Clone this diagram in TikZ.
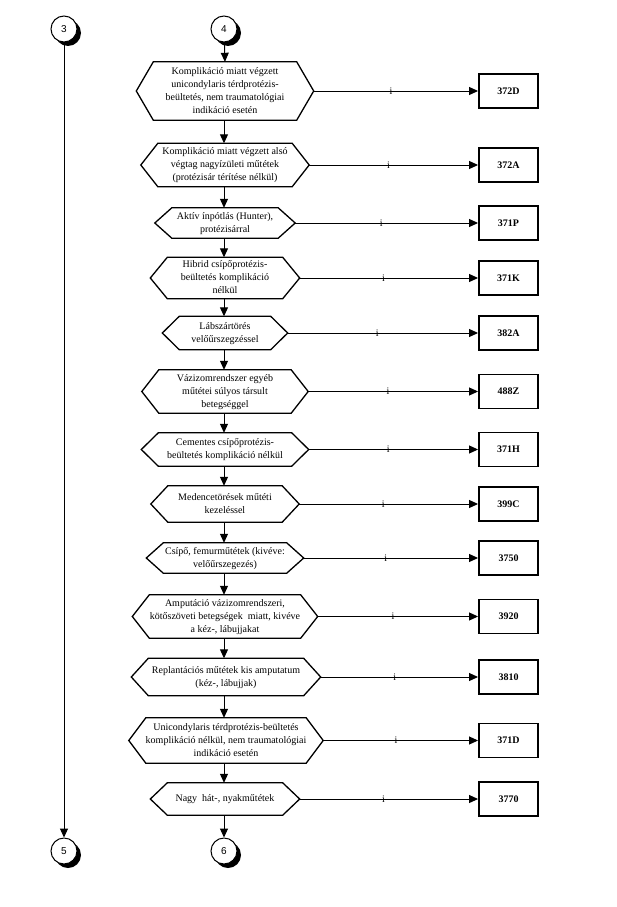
\documentclass[tikz,border=0pt]{standalone}
\usepackage{fontspec}
\setmainfont{Liberation Serif}
\setsansfont{Liberation Sans}
\usetikzlibrary{arrows.meta,shadows}
\newcommand\hx[1]{\makebox[0pt]{\begin{tabular}{@{}c@{}}#1\end{tabular}}}
\begin{document}
\begin{tikzpicture}[x=1pt,y=-1pt,
  hexn/.style={shape=rectangle,inner sep=0pt,font=\fontsize{10}{13}\selectfont},
  hexline/.style={line width=1.3pt,line join=miter},
  codebox/.style={draw,line width=1.9pt,minimum width=59pt,minimum height=34pt,inner sep=0pt,font=\fontsize{10}{12}\selectfont\bfseries},
  conn/.style={line width=1pt,-{Triangle[length=9pt,width=8pt]}},
  ilab/.style={pos=0.47,inner sep=0pt,font=\fontsize{10}{10}\selectfont},
  conncirc/.style={circle,draw,line width=1pt,fill=white,minimum size=26pt,inner sep=0pt,font=\fontsize{10}{10}\sffamily,
    drop shadow={shadow xshift=4pt,shadow yshift=-4pt,fill=black,opacity=1}}]
\useasboundingbox (0,0) rectangle (616,907);

\node[conncirc] (c3) at (64,29) {3};
\node[conncirc] (c4) at (224,29) {4};
\node[conncirc] (c5) at (64,851) {5};
\node[conncirc] (c6) at (224,851) {6};

\node[hexn,minimum width=143pt,minimum height=58pt] (h1) at (225,91) {\hx{Komplikáció miatt végzett\\unicondylaris térdprotézis-\\beültetés, nem traumatológiai\\indikáció esetén}};
\node[hexn,minimum width=134pt,minimum height=43pt] (h2) at (225,165) {\hx{Komplikáció miatt végzett alsó\\végtag nagyízületi műtétek\\(protézisár térítése nélkül)}};
\node[hexn,minimum width=106pt,minimum height=30pt] (h3) at (225,223) {\hx{Aktív ínpótlás (Hunter),\\protézisárral}};
\node[hexn,minimum width=115pt,minimum height=41pt] (h4) at (225,278) {\hx{Hibrid csípőprotézis-\\beültetés komplikáció\\nélkül}};
\node[hexn,minimum width=91pt,minimum height=33pt] (h5) at (225,333) {\hx{Lábszártörés\\velőűrszegzéssel}};
\node[hexn,minimum width=132pt,minimum height=43pt] (h6) at (225,391.5) {\hx{Vázizomrendszer egyéb\\műtétei súlyos társult\\betegséggel}};
\node[hexn,minimum width=133pt,minimum height=33pt] (h7) at (225,449.5) {\hx{Cementes csípőprotézis-\\beültetés komplikáció nélkül}};
\node[hexn,minimum width=114pt,minimum height=36pt] (h8) at (225,504) {\hx{Medencetörések műtéti\\kezeléssel}};
\node[hexn,minimum width=123pt,minimum height=30pt] (h9) at (225,558) {\hx{Csípő, femurműtétek (kivéve:\\velőűrszegezés)}};
\node[hexn,minimum width=151pt,minimum height=43pt] (h10) at (225,616.5) {\hx{Amputáció vázizomrendszeri,\\kötőszöveti betegségek\ \ miatt, kivéve\\a kéz-, lábujjakat}};
\node[hexn,minimum width=155pt,minimum height=37pt] (h11) at (226,677) {\hx{Replantációs műtétek kis amputatum\\(kéz-, lábujjak)}};
\node[hexn,minimum width=160pt,minimum height=45pt] (h12) at (226,740.5) {\hx{Unicondylaris térdprotézis-beültetés\\komplikáció nélkül, nem traumatológiai\\indikáció esetén}};
\node[hexn,minimum width=115pt,minimum height=32pt] (h13) at (225,799) {\hx{Nagy\ \ hát-, nyakműtétek}};

\foreach \nm in {h1,h2,h3,h4,h5,h6,h7,h8,h9,h10,h11,h12,h13}
  \draw[hexline] (\nm.north west) -- (\nm.north east) -- ([xshift=17pt]\nm.east) -- (\nm.south east) -- (\nm.south west) -- ([xshift=-17pt]\nm.west) -- cycle;

\foreach \k/\c in {1/372D,2/372A,3/371P,4/371K,5/382A,6/488Z,7/371H,8/399C,9/3750,10/3920,11/3810,12/371D,13/3770}{
  \node[codebox] (b\k) at (h\k.center -| 508.5,0) {\c};
  \draw[conn] ([xshift=17pt]h\k.east) -- node[ilab]{i} (b\k.west);
}

\draw[conn] (c4) -- (h1.north);
\foreach \a/\b in {1/2,2/3,3/4,4/5,5/6,6/7,7/8,8/9,9/10,10/11,11/12,12/13}
  \draw[conn] (h\a.south -| c4) -- (h\b.north -| c4);
\draw[conn] (h13.south -| c4) -- (c6);
\draw[conn] (c3) -- (c5);
\end{tikzpicture}
\end{document}
